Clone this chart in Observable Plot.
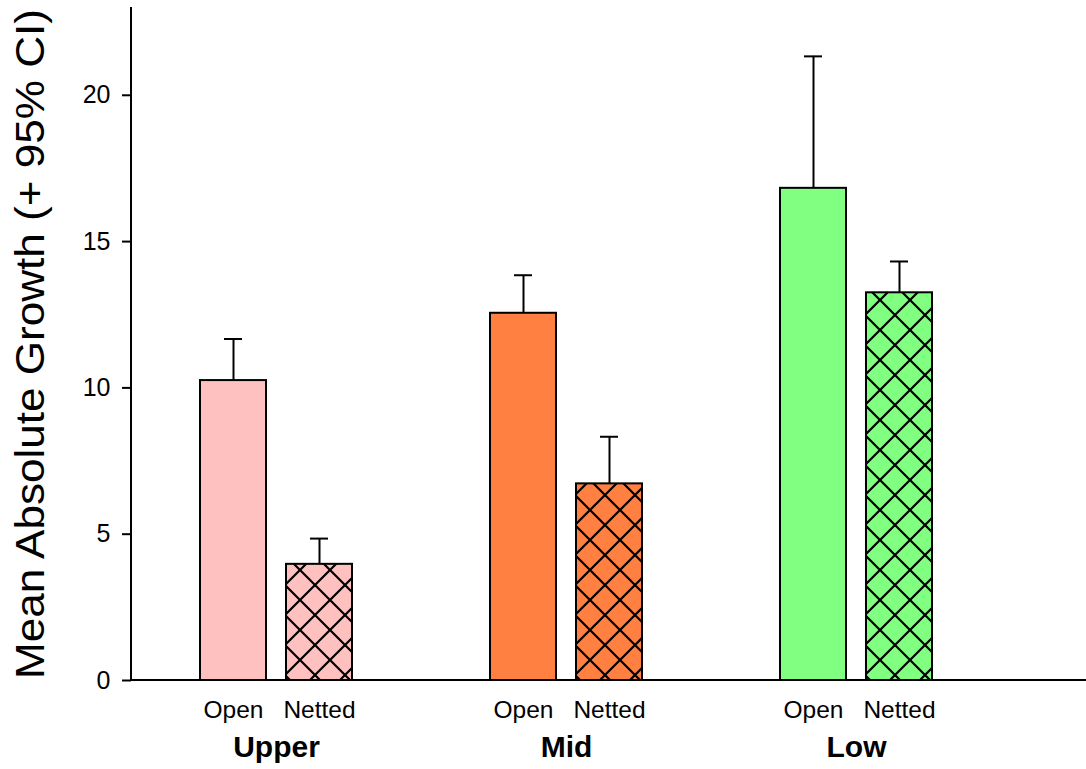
<!DOCTYPE html>
<html>
<head>
<meta charset="utf-8">
<script src="https://cdn.jsdelivr.net/npm/d3@7"></script>
<script src="https://cdn.jsdelivr.net/npm/@observablehq/plot@0.6"></script>
<style>
  html, body { margin: 0; padding: 0; background: #fff; }
  #chart svg { display: block; }
</style>
</head>
<body>
<div id="chart"></div>
<script>
// Elevation zones and net treatments
const groups = ["Upper", "Mid", "Low"];
const treatments = ["Open", "Netted"];
const groupColors = ["#ffc0c0", "#ff8040", "#80ff80"];

// Mean absolute growth and upper 95% confidence limit, per zone
const openMean = [10.25, 12.55, 16.82];
const openUpperCI = [11.67, 13.85, 21.33];
const nettedMean = [3.97, 6.72, 13.25];
const nettedUpperCI = [4.85, 8.33, 14.32];

const yTicks = [0, 5, 10, 15, 20];
const yTitle = "Mean Absolute Growth (+ 95% CI)";

const rows = groups.flatMap((g, i) => [
  {group: g, treatment: "Open", mean: openMean[i], upper: openUpperCI[i]},
  {group: g, treatment: "Netted", mean: nettedMean[i], upper: nettedUpperCI[i]}
]);
const nettedRows = rows.filter(d => d.treatment === "Netted");

const font = "'Liberation Sans', Arial, Helvetica, sans-serif";

const plot = Plot.plot({
  width: 1086,
  height: 769,
  marginTop: 7,
  marginLeft: 131,
  marginRight: 0,
  marginBottom: 89,
  style: {fontFamily: font, color: "#000", background: "#fff", overflow: "visible"},
  fx: {domain: groups, paddingInner: 0, paddingOuter: 0.1437, align: 0},
  x: {domain: treatments, paddingInner: 0.23, paddingOuter: 0.785},
  y: {domain: [0, 23]},
  color: {domain: groups, range: groupColors},
  marks: [
    // axes
    Plot.axisY({ticks: yTicks, tickSize: 9, tickPadding: 12, label: null, fontSize: 25, strokeWidth: 2}),
    Plot.axisY({ticks: [], tickSize: 0, label: yTitle, labelAnchor: "center", labelArrow: "none",
                labelOffset: 116, fontSize: 40}),
    Plot.axisX({tickSize: 0, tickPadding: 20, label: null, fontSize: 24.5}),
    Plot.axisFx({anchor: "bottom", tickSize: 0, tickPadding: 55, label: null, fontSize: 30, fontWeight: "bold"}),
    // error bars (upper CI only)
    Plot.ruleX(rows, {fx: "group", x: "treatment", y1: "mean", y2: "upper", stroke: "#000", strokeWidth: 2}),
    Plot.tickY(rows, {fx: "group", x: "treatment", y: "upper", insetLeft: 24, insetRight: 24, stroke: "#000", strokeWidth: 2}),
    // bars: solid fill, cross-hatch overlay for netted plots, then outline
    Plot.barY(rows, {fx: "group", x: "treatment", y: "mean", fill: "group"}),
    Plot.barY(nettedRows, {fx: "group", x: "treatment", y: "mean", fill: "url(#crosshatch)"}),
    Plot.barY(rows, {fx: "group", x: "treatment", y: "mean", fill: "none", stroke: "#000", strokeWidth: 2})
  ]
});

const svg = d3.select(plot);

// cross-hatch pattern used by the netted bars
const defs = svg.insert("defs", ":first-child");
const pattern = defs.append("pattern")
  .attr("id", "crosshatch")
  .attr("patternUnits", "userSpaceOnUse")
  .attr("width", 30)
  .attr("height", 30);
pattern.append("path")
  .attr("d", "M-3,-3L33,33M33,-3L-3,33")
  .attr("stroke", "#000")
  .attr("stroke-width", 2.2)
  .attr("fill", "none");

// the y title is drawn tall and narrow, stretched along the axis
const yScale = plot.scale("y");
const titleLength = Math.abs(yScale.range[0] - yScale.range[1]) - 3;
svg.selectAll('g[aria-label="y-axis label"] text')
  .attr("textLength", titleLength)
  .attr("lengthAdjust", "spacingAndGlyphs");

// axis lines: y spans the whole value range, x runs to the right edge
const fxScale = plot.scale("fx");
const y0 = yScale.apply(0);
const yTop = yScale.apply(yScale.domain[1]);
const xLeft = fxScale.range[0];
const xRight = fxScale.range[1];
svg.append("line")
  .attr("x1", xLeft).attr("x2", xLeft).attr("y1", yTop).attr("y2", y0)
  .attr("stroke", "#000").attr("stroke-width", 2);
svg.append("line")
  .attr("x1", xLeft).attr("x2", xRight).attr("y1", y0).attr("y2", y0)
  .attr("stroke", "#000").attr("stroke-width", 2);

document.getElementById("chart").appendChild(plot);
</script>
</body>
</html>
